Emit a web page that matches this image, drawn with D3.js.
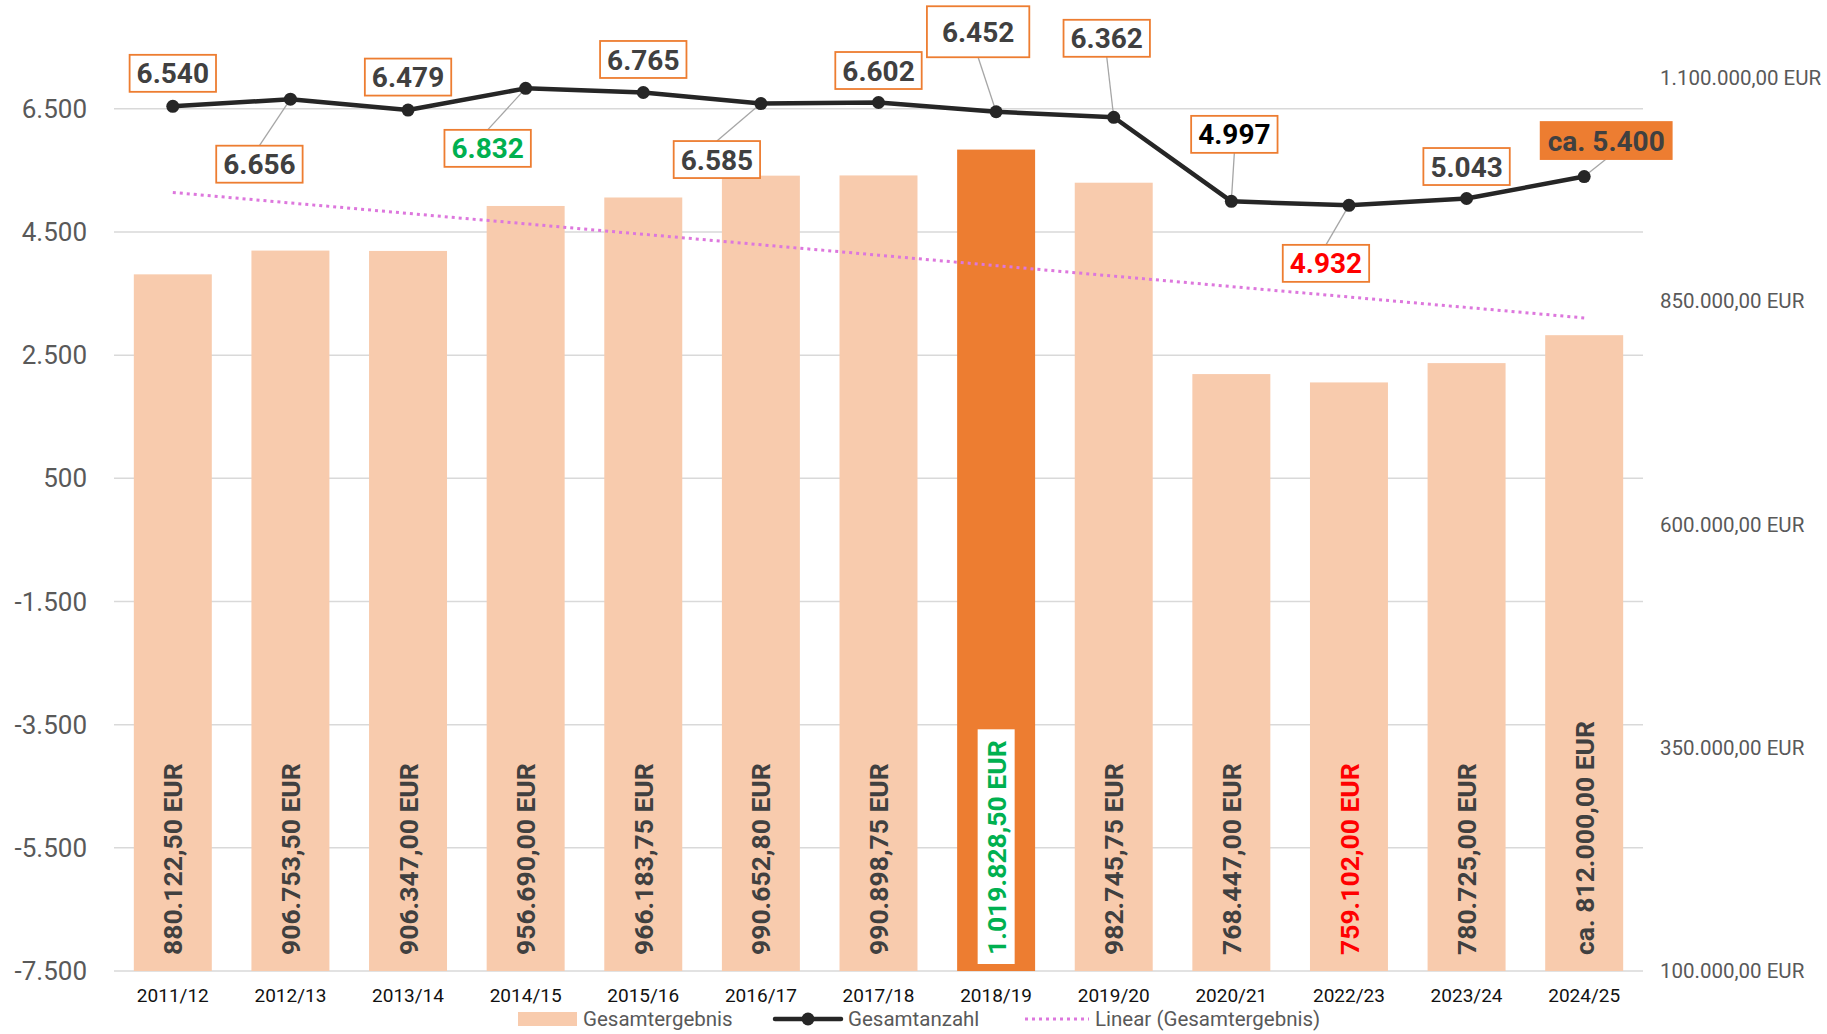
<!DOCTYPE html>
<html>
<head>
<meta charset="utf-8">
<script src="https://cdn.jsdelivr.net/npm/d3@7"></script>
<style>
  body { margin: 0; background: #fff; }
  text { font-family: Roboto, "Noto Sans", sans-serif; }
</style>
</head>
<body>
<svg id="chart" width="1827" height="1034"></svg>
<script>
// data
const seasons = ["2011/12", "2012/13", "2013/14", "2014/15", "2015/16", "2016/17", "2017/18",
                 "2018/19", "2019/20", "2020/21", "2022/23", "2023/24", "2024/25"];
const revenue = [880122.50, 906753.50, 906347.00, 956690.00, 966183.75, 990652.80, 990898.75,
                 1019828.50, 982745.75, 768447.00, 759102.00, 780725.00, 812000.00];
const totals = [6540, 6656, 6479, 6832, 6765, 6585, 6602, 6452, 6362, 4997, 4932, 5043, 5400];
const estimated = [false, false, false, false, false, false, false, false, false, false, false, false, true];
const leftTicks = [-7500, -5500, -3500, -1500, 500, 2500, 4500, 6500];
const rightTicks = [100000, 350000, 600000, 850000, 1100000];

// label placement (pixel offsets from the point) and styling
const labelOffsets = [[0, -33], [-31, 65], [0, -33], [-38, 60], [0, -33], [-44, 56], [0, -32],
                      [-18, -80], [-7, -79], [3, -67], [-23, 58], [0, -32], [22, -36]];
const hasLeader = [false, true, false, true, false, true, false, true, true, true, true, false, true];
const totalColors = ["#404040", "#404040", "#404040", "#00B050", "#404040", "#404040", "#404040",
                     "#404040", "#404040", "#000000", "#FF0000", "#404040", "#404040"];
const highlight = 7;   // 2018/19 bar in dark orange
const lowest = 10;     // 2022/23 red

const de = d3.formatLocale({ decimal: ",", thousands: ".", grouping: [3], currency: ["", " EUR"], minus: "-" });
const fmtInt = de.format(",.0f");
const fmtEur = de.format(",.2f");

const svg = d3.select("#chart");
const plotL = 114, plotR = 1643, plotT = 78, plotB = 971;

const x = d3.scaleBand().domain(seasons).range([plotL, plotR]).paddingInner(0.337).paddingOuter(0.1685);
const yL = d3.scaleLinear().domain([-7500, 7000]).range([plotB, plotT]);
const yR = d3.scaleLinear().domain([100000, 1100000]).range([plotB, plotT]);
const cx = s => x(s) + x.bandwidth() / 2;

// gridlines from left axis
svg.append("g").selectAll("line")
    .data(leftTicks)
    .join("line")
    .attr("x1", plotL).attr("x2", plotR)
    .attr("y1", d => yL(d)).attr("y2", d => yL(d))
    .attr("stroke", "#D9D9D9").attr("stroke-width", 1.5);

// left axis labels
svg.append("g").selectAll("text")
    .data(leftTicks)
    .join("text")
    .attr("x", 87).attr("y", d => yL(d))
    .attr("dy", "0.35em")
    .attr("text-anchor", "end")
    .attr("font-size", 26)
    .attr("fill", "#595959")
    .text(d => fmtInt(d));

// right axis labels
svg.append("g").selectAll("text")
    .data(rightTicks)
    .join("text")
    .attr("x", 1660).attr("y", d => yR(d))
    .attr("dy", "0.35em")
    .attr("font-size", 20.5)
    .attr("fill", "#595959")
    .text(d => fmtEur(d) + " EUR");

// category labels
svg.append("g").selectAll("text")
    .data(seasons)
    .join("text")
    .attr("x", d => cx(d)).attr("y", 995)
    .attr("dy", "0.35em")
    .attr("text-anchor", "middle")
    .attr("font-size", 19)
    .attr("fill", "#111")
    .text(d => d);

// bars
svg.append("g").selectAll("rect")
    .data(revenue)
    .join("rect")
    .attr("x", (d, i) => x(seasons[i]))
    .attr("y", d => yR(d))
    .attr("width", x.bandwidth())
    .attr("height", d => plotB - yR(d))
    .attr("fill", (d, i) => i === highlight ? "#ED7D31" : "#F8CBAD");

// bar value labels (rotated)
const barLabels = svg.append("g").selectAll("g")
    .data(revenue)
    .join("g")
    .attr("transform", (d, i) => `translate(${cx(seasons[i])},955) rotate(-90)`);
barLabels.append("text")
    .attr("dy", "0.36em")
    .attr("font-size", 26.5)
    .attr("font-weight", "bold")
    .attr("fill", (d, i) => i === highlight ? "#00B050" : i === lowest ? "#FF0000" : "#404040")
    .text((d, i) => (estimated[i] ? "ca. " : "") + fmtEur(d) + " EUR");
barLabels.filter((d, i) => i === highlight).each(function() {
    const g = d3.select(this);
    const bb = g.select("text").node().getBBox();
    g.insert("rect", "text")
        .attr("x", bb.x - 9).attr("y", bb.y - 3)
        .attr("width", bb.width + 20).attr("height", bb.height + 6)
        .attr("fill", "#fff");
});

// trend line (least squares on bar values)
const n = revenue.length;
const xm = (n - 1) / 2;
const ym = d3.mean(revenue);
const slope = d3.sum(revenue, (d, i) => (i - xm) * (d - ym)) / d3.sum(revenue, (d, i) => (i - xm) ** 2);
const trend = revenue.map((d, i) => ym + slope * (i - xm));
svg.append("path")
    .datum(trend)
    .attr("d", d3.line().x((d, i) => cx(seasons[i])).y(d => yR(d)))
    .attr("fill", "none")
    .attr("stroke", "#DD77DD")
    .attr("stroke-width", 3)
    .attr("stroke-dasharray", "3 4");

// total count line
const pts = totals.map((d, i) => ({ x: cx(seasons[i]), y: yL(d), v: d, i }));
const leaders = svg.append("g");
svg.append("path")
    .datum(pts)
    .attr("d", d3.line().x(d => d.x).y(d => d.y))
    .attr("fill", "none")
    .attr("stroke", "#262626")
    .attr("stroke-width", 4.5)
    .attr("stroke-linejoin", "round");
svg.append("g").selectAll("circle")
    .data(pts)
    .join("circle")
    .attr("cx", d => d.x).attr("cy", d => d.y)
    .attr("r", 6.5)
    .attr("fill", "#262626");

// count labels in boxes
const boxes = svg.append("g").selectAll("g")
    .data(pts)
    .join("g")
    .attr("transform", d => `translate(${d.x + labelOffsets[d.i][0]},${d.y + labelOffsets[d.i][1]})`);
boxes.append("text")
    .attr("text-anchor", "middle")
    .attr("dy", "0.36em")
    .attr("font-size", 28)
    .attr("font-weight", "bold")
    .attr("fill", d => totalColors[d.i])
    .text(d => (estimated[d.i] ? "ca. " : "") + fmtInt(d.v));
boxes.each(function(d) {
    const g = d3.select(this);
    const bb = g.select("text").node().getBBox();
    const padX = d.i === highlight ? 15 : 7;
    const padY = d.i === highlight ? 9 : 2;
    const w = bb.width + 2 * padX, h = bb.height + 2 * padY;
    g.insert("rect", "text")
        .attr("x", -w / 2).attr("y", -h / 2)
        .attr("width", w).attr("height", h)
        .attr("fill", estimated[d.i] ? "#ED7D31" : "#fff")
        .attr("stroke", "#ED7D31")
        .attr("stroke-width", 1.8);
    if (hasLeader[d.i]) {
        const dy = labelOffsets[d.i][1];
        const edge = dy > 0 ? dy - h / 2 : dy + h / 2;
        leaders.append("line")
            .attr("x1", d.x).attr("y1", d.y)
            .attr("x2", d.x + labelOffsets[d.i][0]).attr("y2", d.y + edge)
            .attr("stroke", "#A6A6A6").attr("stroke-width", 1.3);
    }
});

// legend
const legend = svg.append("g").attr("transform", "translate(0,1019)");
legend.append("rect").attr("x", 518).attr("y", -7).attr("width", 59).attr("height", 14).attr("fill", "#F8CBAD");
legend.append("text").attr("x", 583).attr("dy", "0.35em").attr("font-size", 20.5).attr("fill", "#595959").text("Gesamtergebnis");
legend.append("line").attr("x1", 775).attr("x2", 841).attr("stroke", "#262626").attr("stroke-width", 4.5).attr("stroke-linecap", "round");
legend.append("circle").attr("cx", 808).attr("r", 6.5).attr("fill", "#262626");
legend.append("text").attr("x", 848).attr("dy", "0.35em").attr("font-size", 20.5).attr("fill", "#595959").text("Gesamtanzahl");
legend.append("line").attr("x1", 1025).attr("x2", 1089).attr("stroke", "#DD77DD").attr("stroke-width", 3).attr("stroke-dasharray", "3 4");
legend.append("text").attr("x", 1095).attr("dy", "0.35em").attr("font-size", 20.5).attr("fill", "#595959").text("Linear (Gesamtergebnis)");
</script>
</body>
</html>
